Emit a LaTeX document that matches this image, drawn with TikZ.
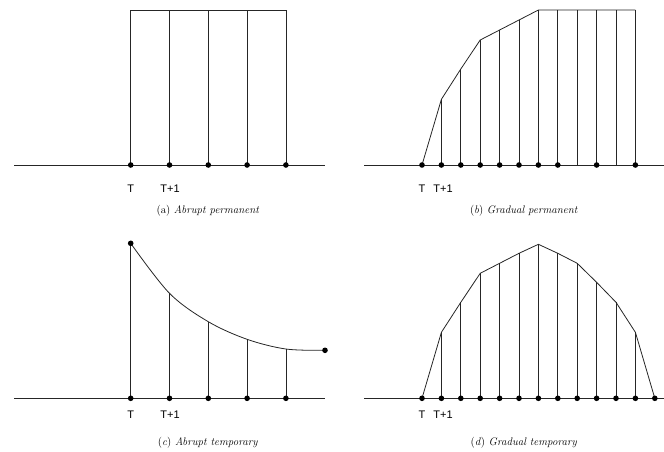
\documentclass[tikz,border=0pt]{standalone}
\usepackage{fontspec}
\setsansfont{Liberation Sans}
\usetikzlibrary{positioning}

\tikzset{dot/.style={circle,fill=black,inner sep=0pt,minimum size=5.6pt},
  ticklbl/.style={font=\sffamily\fontsize{11}{13}\selectfont,inner sep=0pt},
  caplbl/.style={font=\fontsize{11}{13}\selectfont,inner sep=0pt},
  ln/.style={draw=black!85,line width=0.8pt}}

\begin{document}
\begin{tikzpicture}[x=1pt,y=-1pt]
\useasboundingbox (0,0) rectangle (664,451);
% (a) abrupt permanent
\coordinate (aL) at (14,165);
\coordinate (aR) at (325,165);
\draw[ln] (aL) -- (aR);
\foreach \i in {0,...,4} {
  \coordinate (ah\i) at ({130.7+38.8*\i},10);
  \draw[ln] ({130.7+38.8*\i},165) -- (ah\i);
  \node[dot] (a\i) at ({130.7+38.8*\i},165) {};
}
\draw[ln] (ah0) -- (ah4);
\node[ticklbl] (aT) at (130.7,189) {T};
\node[ticklbl] (aT1) at (170,189) {T+1};
\node[caplbl] (acap) at (208,211) {(a) \textit{Abrupt permanent}};

% (b) gradual permanent
\coordinate (bL) at (364,165);
\coordinate (bR) at (664,165);
\draw[ln] (bL) -- (bR);
\foreach \h [count=\i from 0] in {165,99.3,69,40,30,20,10,10,10,10,10,10} {
  \coordinate (b\i) at ({422+19.4*\i},165);
  \coordinate (bh\i) at ({422+19.4*\i},\h);
}
\foreach \i in {1,...,11} \draw[ln] (b\i) -- (bh\i);
\draw[ln] (bh0) \foreach \i in {1,...,11} {-- (bh\i)};
\foreach \i in {0,...,7,9,11} \node[dot] (bd\i) at (b\i) {};
\node[ticklbl] (bT) at (422,189) {T};
\node[ticklbl] (bT1) at (443,189) {T+1};
\node[caplbl] (bcap) at (524,211) {(\textit{b}) \textit{Gradual permanent}};

% (c) abrupt temporary
\coordinate (cL) at (14,398.3);
\coordinate (cR) at (325,398.3);
\draw[ln] (cL) -- (cR);
\foreach \h [count=\i from 0] in {243.3,293.3,321.7,339.3,349} {
  \coordinate (c\i) at ({130.7+38.8*\i},398.3);
  \coordinate (ch\i) at ({130.7+38.8*\i},\h);
  \draw[ln] (c\i) -- (ch\i);
}
\coordinate (ce) at (325,350.3);
\draw[ln] plot[smooth,tension=0.55] coordinates {(ch0) (ch1) (ch2) (ch3) (ch4) (ce)};
\foreach \i in {0,...,4} \node[dot] (cd\i) at (c\i) {};
\node[dot] (ctop) at (ch0) {};
\node[dot] (cend) at (ce) {};
\node[ticklbl] (cT) at (130.7,414.3) {T};
\node[ticklbl] (cT1) at (170,414.3) {T+1};
\node[caplbl] (ccap) at (208,443) {(\textit{c}) \textit{Abrupt temporary}};

% (d) gradual temporary
\coordinate (dL) at (364,398.3);
\coordinate (dR) at (664,398.3);
\draw[ln] (dL) -- (dR);
\foreach \h [count=\i from 0] in {398.3,332.3,302.3,273.3,263.3,253.3,244.3,253.3,263.3,282.3,302.3,332.3,398.3} {
  \coordinate (d\i) at ({422+19.4*\i},398.3);
  \coordinate (dh\i) at ({422+19.4*\i},\h);
}
\foreach \i in {1,...,11} \draw[ln] (d\i) -- (dh\i);
\draw[ln] (dh0) \foreach \i in {1,...,12} {-- (dh\i)};
\foreach \i in {0,...,12} \node[dot] (dd\i) at (d\i) {};
\node[ticklbl] (dT) at (422,414.3) {T};
\node[ticklbl] (dT1) at (443,414.3) {T+1};
\node[caplbl] (dcap) at (524,443) {(\textit{d}) \textit{Gradual temporary}};
\end{tikzpicture}
\end{document}
